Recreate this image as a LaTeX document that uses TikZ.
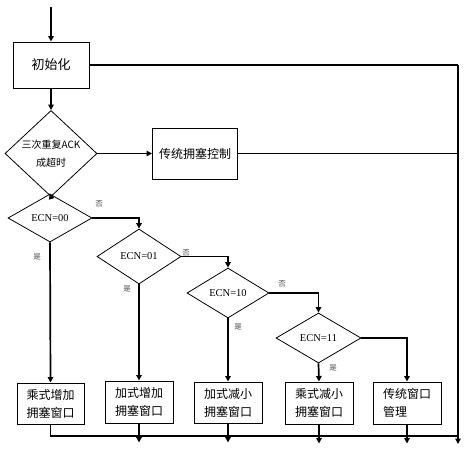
\documentclass[tikz,border=0pt]{standalone}
\usepackage{fontspec}
\setmainfont{Liberation Serif}
\newfontfamily\cjk{Noto Sans CJK SC}
\usetikzlibrary{shapes.geometric,arrows.meta}
\begin{document}
\begin{tikzpicture}[x=1pt,y=-1pt,
  box/.style={draw,line width=1pt,rectangle,inner sep=0pt,align=center,font=\cjk\fontsize{12}{18}\selectfont},
  dia/.style={draw,line width=0.8pt,diamond,inner sep=0pt,align=center,font=\fontsize{10.5}{12}\selectfont},
  conn/.style={line width=1.7pt},
  arr/.style={line width=1.7pt,-{Triangle[length=5.5pt,width=5.5pt]}},
  lab/.style={font=\cjk\fontsize{7.5}{8}\selectfont,text=black!70}]
\useasboundingbox (0,0) rectangle (468,450);
\fill[white] (0,0) rectangle (468,450);
% nodes
\coordinate (start) at (51,7);
\node[box,minimum width=76pt,minimum height=46pt,font=\cjk\fontsize{13}{16}\selectfont] (init) at (51,65) {初始化};
\node[dia,minimum width=92pt,minimum height=53pt,font=\cjk\fontsize{10}{18}\selectfont] (d1) at (51,153.5) {三次重复ACK\\成超时};
\node[box,minimum width=85pt,minimum height=51pt] (tc) at (195,153.5) {传统拥塞控制};
\node[dia,minimum width=84pt,minimum height=48pt] (d2) at (50,218) {ECN=00};
\node[dia,minimum width=84pt,minimum height=55pt] (d3) at (139,256.5) {ECN=01};
\node[dia,minimum width=82pt,minimum height=50pt] (d4) at (228,293) {ECN=10};
\node[dia,minimum width=85pt,minimum height=50pt] (d5) at (318.5,338) {ECN=11};
\node[box,minimum width=67pt,minimum height=41pt] (b1) at (50.5,403.5) {乘式增加\\拥塞窗口};
\node[box,minimum width=68pt,minimum height=42pt] (b2) at (139,402) {加式增加\\拥塞窗口};
\node[box,minimum width=68pt,minimum height=41pt] (b3) at (228,402.5) {加式减小\\拥塞窗口};
\node[box,minimum width=68pt,minimum height=42pt] (b4) at (319,403) {乘式减小\\拥塞窗口};
\node[box,minimum width=68pt,minimum height=42pt,align=left] (b5) at (407,403) {传统窗口\\管理};
\coordinate (rtop) at (458,65);
\coordinate (rmid) at (458,153.5);
\coordinate (rend) at (458,444);
\coordinate (bus1) at (50.5,436);
\coordinate (bus2) at (458,436);
% connectors
\draw[arr] (start) -- (init.north);
\draw[conn] (init.east) -- (rtop);
\draw[arr] (rtop) -- (rend);
\draw[arr] (init.south) -- (d1.north);
\draw[arr] (d1.east) -- (tc.west);
\draw[conn] (tc.east) -- (rmid);
\draw[arr] (d1.south) -- (d2.north);
\draw[arr] (d2.east) -| (d3.north);
\draw[arr] (d2.south) -- (b1.north);
\draw[arr] (d3.east) -| (d4.north);
\draw[arr] (d3.south) -- (b2.north);
\draw[arr] (d4.east) -| (d5.north);
\draw[arr] (d4.south) -- (b3.north);
\draw[arr] (d5.east) -| (b5.north);
\draw[arr] (d5.south) -- (b4.north);
\draw[conn] (b1.south) -- (bus1) -- (bus2);
\draw[arr] (b2.south) -- ++(0,19);
\draw[arr] (b3.south) -- ++(0,19);
\draw[arr] (b4.south) -- ++(0,19);
\draw[arr] (b5.south) -- ++(0,19);
% labels
\node[lab] at (99,204) {否};
\node[lab] at (37,257) {是};
\node[lab] at (186,253) {否};
\node[lab] at (127,289) {是};
\node[lab] at (282,284) {否};
\node[lab] at (238,327) {是};
\node[lab] at (333,368) {是};
\end{tikzpicture}
\end{document}
